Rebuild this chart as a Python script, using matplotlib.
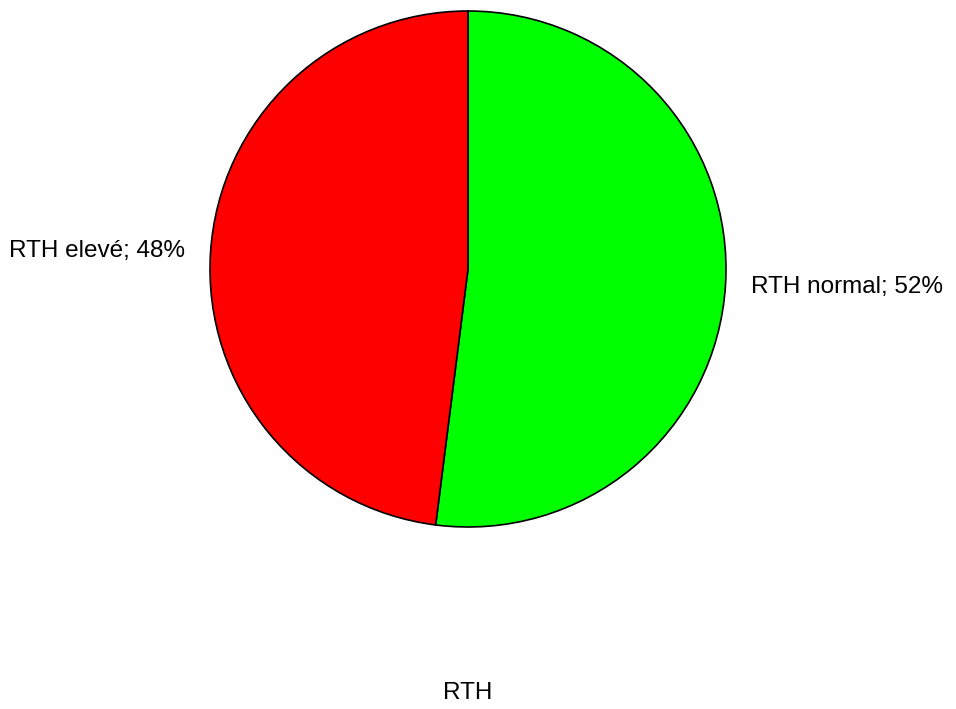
import matplotlib
matplotlib.use('Agg')
import matplotlib.pyplot as plt

labels = ['RTH normal', 'RTH elevé']
values = [52, 48]
colors = ['#00ff00', '#ff0000']
title = 'RTH'

plt.rcParams['font.family'] = ['Liberation Sans', 'DejaVu Sans']

fig = plt.figure(figsize=(9.56, 7.09), dpi=100)
W, H = 956, 709
cx, cy, r = 468, 269, 258
ax = fig.add_axes([(cx - r) / W, (H - cy - r) / H, 2 * r / W, 2 * r / H])

texts = ['%s; %d%%' % (l, v) for l, v in zip(labels, values)]
ax.pie(values, labels=texts, colors=colors, startangle=90, counterclock=False,
       labeldistance=1.1, radius=1,
       wedgeprops={'edgecolor': 'black', 'linewidth': 1.2},
       textprops={'fontsize': 17.5})
ax.set_xlim(-1, 1)
ax.set_ylim(-1, 1)
ax.set_aspect('equal')

fig.text(cx / W, 1 - 693 / H, title, ha='center', va='center', fontsize=17.5)

fig.savefig('out.png', dpi=100)
